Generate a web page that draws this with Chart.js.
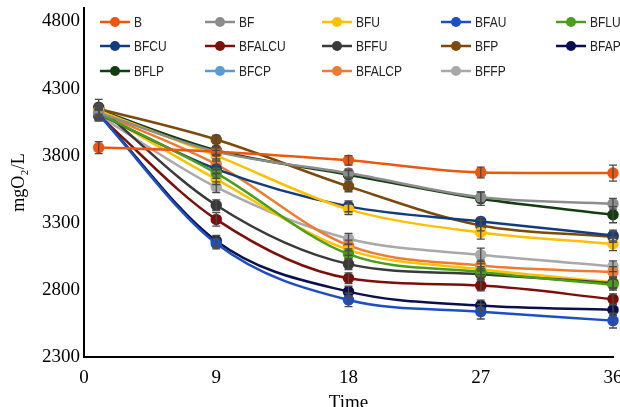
<!DOCTYPE html>
<html>
<head>
<meta charset="utf-8">
<script src="https://cdn.jsdelivr.net/npm/chart.js@4"></script>
<style>
  html, body { margin: 0; padding: 0; background: #fff; }
  canvas { display: block; }
</style>
</head>
<body>
<canvas id="codChart" width="620" height="407"></canvas>
<script>
const times = [1, 9, 18, 27, 36];
const xTicks = [0, 9, 18, 27, 36];
const yTicks = [2300, 2800, 3300, 3800, 4300, 4800];

const names = ['B', 'BF', 'BFU', 'BFAU', 'BFLU', 'BFCU', 'BFALCU', 'BFFU', 'BFP', 'BFAP', 'BFLP', 'BFCP', 'BFALCP', 'BFFP'];

const B      = [3860, 3830, 3765, 3675, 3670];
const BF     = [4120, 3830, 3670, 3490, 3442];
const BFU    = [4135, 3800, 3400, 3228, 3142];
const BFAU   = [4105, 3145, 2725, 2638, 2571];
const BFLU   = [4115, 3670, 3066, 2934, 2838];
const BFCU   = [4110, 3700, 3422, 3310, 3205];
const BFALCU = [4100, 3325, 2887, 2832, 2731];
const BFFU   = [4160, 3430, 2992, 2917, 2850];
const BFP    = [4150, 3920, 3571, 3280, 3195];
const BFAP   = [4110, 3165, 2787, 2683, 2651];
const BFLP   = [4140, 3840, 3658, 3479, 3360];
const BFCP   = [4125, 3625, 3098, 2954, 2857];
const BFALCP = [4120, 3735, 3131, 2981, 2933];
const BFFP   = [4100, 3565, 3181, 3061, 2976];

// standard deviations (error bars)
const errB      = [45, 30, 35, 40, 60];
const errBF     = [40, 30, 30, 40, 40];
const errBFU    = [40, 40, 40, 50, 50];
const errBFAU   = [40, 40, 50, 55, 55];
const errBFLU   = [40, 40, 40, 40, 40];
const errBFCU   = [40, 30, 40, 30, 40];
const errBFALCU = [40, 50, 40, 40, 40];
const errBFFU   = [60, 40, 40, 40, 40];
const errBFP    = [40, 30, 40, 40, 40];
const errBFAP   = [40, 40, 40, 40, 40];
const errBFLP   = [40, 30, 30, 50, 60];
const errBFCP   = [40, 40, 40, 40, 40];
const errBFALCP = [40, 40, 40, 40, 40];
const errBFFP   = [40, 40, 40, 50, 40];

const series = [B, BF, BFU, BFAU, BFLU, BFCU, BFALCU, BFFU, BFP, BFAP, BFLP, BFCP, BFALCP, BFFP];
const errors = [errB, errBF, errBFU, errBFAU, errBFLU, errBFCU, errBFALCU, errBFFU, errBFP, errBFAP, errBFLP, errBFCP, errBFALCP, errBFFP];

const lineColors = ['#EC570E', '#8C8C8C', '#FFC000', '#1C4FC2', '#4A9E1C', '#123C7C', '#7A1009', '#3A3A3A', '#7B4A0C', '#0B0F4D', '#133D10', '#FFC000', '#EF7B30', '#A9A9A9'];
const legendColors = ['#EC570E', '#8C8C8C', '#FFC000', '#1C4FC2', '#4A9E1C', '#123C7C', '#7A1009', '#3A3A3A', '#7B4A0C', '#0B0F4D', '#133D10', '#5B9BD5', '#EF7B30', '#A9A9A9'];

const serif = '"Liberation Serif", "DejaVu Serif", serif';

// vertical error bars with caps
const errorBars = {
    id: 'errorBars',
    afterDatasetsDraw(chart) {
        const ctx = chart.ctx;
        const xs = chart.scales.x, ys = chart.scales.y;
        ctx.save();
        ctx.strokeStyle = '#4a4a4a';
        ctx.lineWidth = 1.3;
        series.forEach((vals, i) => {
            vals.forEach((v, j) => {
                const px = xs.getPixelForValue(times[j]);
                const top = ys.getPixelForValue(v + errors[i][j]);
                const bot = ys.getPixelForValue(v - errors[i][j]);
                ctx.beginPath();
                ctx.moveTo(px, top); ctx.lineTo(px, bot);
                ctx.moveTo(px - 4, top); ctx.lineTo(px + 4, top);
                ctx.moveTo(px - 4, bot); ctx.lineTo(px + 4, bot);
                ctx.stroke();
            });
        });
        ctx.restore();
    }
};

// legend laid out as a 5-column grid inside the plot
const gridLegend = {
    id: 'gridLegend',
    afterDraw(chart) {
        const ctx = chart.ctx;
        const colX = [100, 205, 322, 441, 556];
        const rowY = [22, 46, 71];
        ctx.save();
        ctx.font = '15px "Liberation Sans", Arial, sans-serif';
        ctx.textBaseline = 'middle';
        ctx.textAlign = 'left';
        names.forEach((n, i) => {
            const x = colX[i % 5], y = rowY[Math.floor(i / 5)];
            ctx.strokeStyle = legendColors[i];
            ctx.fillStyle = legendColors[i];
            ctx.lineWidth = 2.5;
            ctx.beginPath();
            ctx.moveTo(x, y); ctx.lineTo(x + 30, y);
            ctx.stroke();
            ctx.beginPath();
            ctx.arc(x + 15, y, 5, 0, Math.PI * 2);
            ctx.fill();
            ctx.fillStyle = '#222';
            // narrow lettering like the original
            ctx.save();
            ctx.translate(x + 34, y + 1);
            ctx.scale(0.8, 1);
            ctx.fillText(n, 0, 0);
            ctx.restore();
        });
        ctx.restore();
    }
};

new Chart(document.getElementById('codChart'), {
    type: 'line',
    data: {
        datasets: names.map((n, i) => ({
            label: n,
            data: times.map((t, j) => ({x: t, y: series[i][j]})),
            borderColor: lineColors[i],
            backgroundColor: lineColors[i],
            pointBackgroundColor: lineColors[i],
            pointBorderColor: lineColors[i],
            borderWidth: 2.5,
            pointRadius: 4.5,
            cubicInterpolationMode: 'monotone',
            clip: false
        }))
    },
    options: {
        responsive: false,
        animation: false,
        devicePixelRatio: 1,
        layout: {padding: {top: 8, right: 3, left: 0, bottom: 0}},
        plugins: {
            legend: {display: false},
            tooltip: {enabled: false}
        },
        scales: {
            x: {
                type: 'linear',
                min: 0,
                max: 36,
                afterBuildTicks: s => { s.ticks = xTicks.map(v => ({value: v})); },
                afterFit: s => { s.height = 50; s.paddingLeft = 0; s.paddingRight = 0; },
                grid: {display: false, drawTicks: false},
                border: {color: '#000', width: 2},
                ticks: {color: '#000', font: {family: serif, size: 19}, padding: 10, maxRotation: 0, callback: v => String(v)},
                title: {display: true, text: 'Time', color: '#000', font: {family: serif, size: 19, lineHeight: 1}, padding: {top: 0, bottom: -6}}
            },
            y: {
                min: 2300,
                max: 4900,
                afterBuildTicks: s => { s.ticks = yTicks.map(v => ({value: v})); },
                afterFit: s => { s.width = 84; s.paddingTop = 0; s.paddingBottom = 0; },
                grid: {display: false, drawTicks: false},
                border: {color: '#000', width: 2},
                ticks: {color: '#000', font: {family: serif, size: 19}, padding: 4, callback: v => String(v)},
                title: {display: true, text: 'mgO₂/L', color: '#000', font: {family: serif, size: 18, lineHeight: 1}, padding: {top: 10, bottom: 0}}
            }
        }
    },
    plugins: [errorBars, gridLegend]
});
</script>
</body>
</html>
